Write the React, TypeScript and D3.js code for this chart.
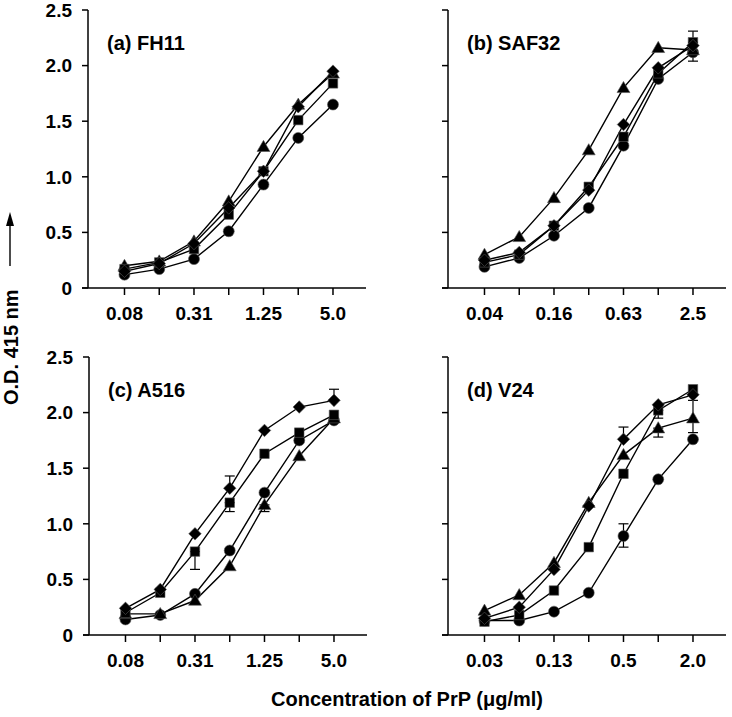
import React from "react";
import * as d3 from "d3";

// ---- data ----
const concA = ["0.08", "0.16", "0.31", "0.63", "1.25", "2.5", "5.0"];
const concB = ["0.04", "0.08", "0.16", "0.31", "0.63", "1.25", "2.5"];
const concC = ["0.08", "0.16", "0.31", "0.63", "1.25", "2.5", "5.0"];
const concD = ["0.03", "0.06", "0.13", "0.25", "0.5", "1.0", "2.0"];

const panelTitles = ["(a) FH11", "(b) SAF32", "(c) A516", "(d) V24"];
const seriesNames = ["circle", "triangle", "square", "diamond"];

// values per panel: [circle, triangle, square, diamond]
const aCircle = [0.12, 0.17, 0.26, 0.51, 0.93, 1.35, 1.65];
const aTriangle = [0.2, 0.24, 0.42, 0.78, 1.27, 1.65, 1.93];
const aSquare = [0.17, 0.23, 0.35, 0.66, 1.05, 1.51, 1.84];
const aDiamond = [0.15, 0.22, 0.4, 0.72, 1.05, 1.63, 1.95];

const bCircle = [0.19, 0.27, 0.47, 0.72, 1.28, 1.88, 2.12];
const bTriangle = [0.3, 0.46, 0.81, 1.24, 1.8, 2.16, 2.14];
const bSquare = [0.23, 0.3, 0.56, 0.91, 1.36, 1.93, 2.21];
const bDiamond = [0.25, 0.32, 0.56, 0.88, 1.47, 1.98, 2.18];

const cCircle = [0.14, 0.18, 0.37, 0.76, 1.28, 1.75, 1.93];
const cTriangle = [0.19, 0.19, 0.31, 0.62, 1.17, 1.61, 1.95];
const cSquare = [0.2, 0.38, 0.75, 1.19, 1.63, 1.82, 1.98];
const cDiamond = [0.24, 0.41, 0.91, 1.32, 1.84, 2.05, 2.11];

const dCircle = [0.13, 0.13, 0.21, 0.38, 0.89, 1.4, 1.76];
const dTriangle = [0.22, 0.36, 0.65, 1.19, 1.62, 1.86, 1.95];
const dSquare = [0.12, 0.18, 0.4, 0.79, 1.45, 2.02, 2.21];
const dDiamond = [0.15, 0.25, 0.59, 1.16, 1.76, 2.07, 2.16];

// error bars: [panel, seriesIndex, pointIndex, low, high]
const errorBars: [number, number, number, number, number][] = [
  [1, 2, 6, 2.21, 2.31],
  [1, 0, 6, 2.04, 2.12],
  [2, 3, 3, 1.32, 1.43],
  [2, 2, 3, 1.11, 1.19],
  [2, 2, 2, 0.59, 0.75],
  [2, 1, 4, 1.11, 1.17],
  [2, 3, 6, 2.11, 2.21],
  [3, 3, 4, 1.76, 1.87],
  [3, 0, 4, 0.79, 1.0],
  [3, 1, 5, 1.78, 1.86],
  [3, 2, 5, 1.95, 2.02],
  [3, 1, 6, 1.82, 2.11],
];

const yTicks = [0, 0.5, 1.0, 1.5, 2.0, 2.5];
const yTickLabels = ["0", "0.5", "1.0", "1.5", "2.0", "2.5"];

const panelConc = [concA, concB, concC, concD];
const panelSeries = [
  [aCircle, aTriangle, aSquare, aDiamond],
  [bCircle, bTriangle, bSquare, bDiamond],
  [cCircle, cTriangle, cSquare, cDiamond],
  [dCircle, dTriangle, dSquare, dDiamond],
];

const FONT = "'Liberation Sans', Arial, Helvetica, sans-serif";

const symbolTypes: Record<string, any> = {
  circle: d3.symbolCircle,
  triangle: d3.symbolTriangle,
  square: d3.symbolSquare,
  diamond: (d3 as any).symbolDiamond2 || d3.symbolDiamond,
};
const symbolSizes: Record<string, number> = {
  circle: 95,
  triangle: 72,
  square: 90,
  diamond: 100,
};

function Panel({ idx, x0, yTop }: { idx: number; x0: number; yTop: number }) {
  const W = 278;
  const H = 278;
  const yBottom = yTop + H;
  const x = d3.scaleLinear().domain([-1.05, 6.95]).range([x0, x0 + W]);
  const y = d3.scaleLinear().domain([0, 2.5]).range([yBottom, yTop]);
  const conc = panelConc[idx];
  const series = panelSeries[idx];
  const line = d3
    .line<number>()
    .x((_, i) => x(i))
    .y((d) => y(d));
  const showYLabels = idx % 2 === 0;
  return (
    <g>
      {/* axes */}
      <line x1={x0} x2={x0} y1={yTop} y2={yBottom} stroke="#000" strokeWidth={1.5} />
      <line x1={x0 - 6} x2={x0 + W} y1={yBottom} y2={yBottom} stroke="#000" strokeWidth={1.5} />
      {yTicks.map((t, i) => (
        <g key={"yt" + i}>
          <line x1={x0 - 6} x2={x0} y1={y(t)} y2={y(t)} stroke="#000" strokeWidth={1.5} />
          {showYLabels && (
            <text
              x={x0 - 16}
              y={y(t)}
              dy="0.36em"
              textAnchor="end"
              fontFamily={FONT}
              fontWeight="bold"
              fontSize={19}
            >
              {yTickLabels[i]}
            </text>
          )}
        </g>
      ))}
      {conc.map((c, i) => (
        <g key={"xt" + i}>
          <line x1={x(i)} x2={x(i)} y1={yBottom} y2={yBottom + 7} stroke="#000" strokeWidth={1.5} />
          {i % 2 === 0 && (
            <text
              x={x(i)}
              y={yBottom + 32}
              textAnchor="middle"
              fontFamily={FONT}
              fontWeight="bold"
              fontSize={19}
            >
              {c}
            </text>
          )}
        </g>
      ))}
      <text x={x0 + 19} y={yTop + 40} fontFamily={FONT} fontWeight="bold" fontSize={20}>
        {panelTitles[idx]}
      </text>
      {/* error bars */}
      {errorBars
        .filter((e) => e[0] === idx)
        .map((e, k) => {
          const cx = x(e[2]);
          return (
            <g key={"eb" + k} stroke="#000" strokeWidth={1.2}>
              <line x1={cx} x2={cx} y1={y(e[3])} y2={y(e[4])} />
              <line x1={cx - 5} x2={cx + 5} y1={y(e[3])} y2={y(e[3])} />
              <line x1={cx - 5} x2={cx + 5} y1={y(e[4])} y2={y(e[4])} />
            </g>
          );
        })}
      {/* lines */}
      {series.map((s, si) => (
        <path key={"l" + si} d={line(s) || ""} fill="none" stroke="#000" strokeWidth={1.4} />
      ))}
      {/* markers */}
      {series.map((s, si) => {
        const name = seriesNames[si];
        const path = d3.symbol().type(symbolTypes[name]).size(symbolSizes[name])() || "";
        return s.map((v, i) => (
          <path
            key={"m" + si + "-" + i}
            d={path}
            transform={`translate(${x(i)},${y(v) + (name === "triangle" ? 1 : 0)})`}
            fill="#000"
            stroke="#555"
            strokeWidth={0.6}
          />
        ));
      })}
    </g>
  );
}

export default function App() {
  return (
    <svg width={732} height={717} style={{ display: "block", position: "absolute", left: 0, top: 0 }}>
      <rect width={732} height={717} fill="#fff" />
      <Panel idx={0} x0={88} yTop={10} />
      <Panel idx={1} x0={448} yTop={10} />
      <Panel idx={2} x0={89} yTop={357} />
      <Panel idx={3} x0={448} yTop={357} />
      {/* y axis title */}
      <text
        transform="translate(18,405) rotate(-90)"
        fontFamily={FONT}
        fontWeight="bold"
        fontSize={20}
      >
        O.D. 415 nm
      </text>
      <line x1={10} x2={10} y1={266} y2={222} stroke="#000" strokeWidth={1.4} />
      <path d="M10,212 L6,226 L14,226 Z" fill="#000" />
      <text x={407} y={706} textAnchor="middle" fontFamily={FONT} fontWeight="bold" fontSize={20}>
        Concentration of PrP (μg/ml)
      </text>
    </svg>
  );
}
